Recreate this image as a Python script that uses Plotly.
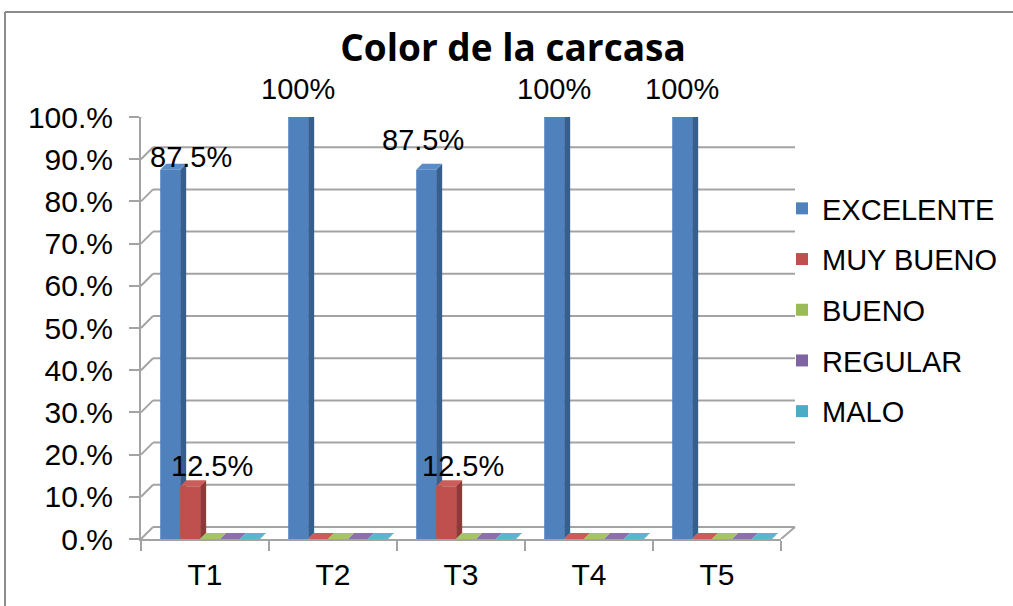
import plotly.graph_objects as go

# ---- data -------------------------------------------------------------
categories = ["T1", "T2", "T3", "T4", "T5"]
series_names = ["EXCELENTE", "MUY BUENO", "BUENO", "REGULAR", "MALO"]
excelente = [0.875, 1.0, 0.875, 1.0, 1.0]
muy_bueno = [0.125, 0.0, 0.125, 0.0, 0.0]
bueno = [0.0, 0.0, 0.0, 0.0, 0.0]
regular = [0.0, 0.0, 0.0, 0.0, 0.0]
malo = [0.0, 0.0, 0.0, 0.0, 0.0]
y_tick_values = [0.0, 0.1, 0.2, 0.3, 0.4, 0.5, 0.6, 0.7, 0.8, 0.9, 1.0]
y_tick_labels = ["0.%", "10.%", "20.%", "30.%", "40.%", "50.%",
                 "60.%", "70.%", "80.%", "90.%", "100.%"]

series_values = [excelente, muy_bueno, bueno, regular, malo]

# ---- style ------------------------------------------------------------
front_colors = ["#4F81BD", "#C0504D", "#9BBB59", "#8064A2", "#4BACC6"]
top_colors = ["#5A8CC9", "#CA5C59", "#A5C466", "#8B70AD", "#58B6CF"]
side_colors = ["#375E8D", "#8F3A38", "#728B40", "#5D4878", "#35809A"]
FONT = "Liberation Sans, Arial, sans-serif"
GRID = "#A3A3A3"

W, H = 1013, 606
PLOT_L, PLOT_R = 141, 781      # front plane, px from left
PLOT_B, PLOT_T = 539, 117      # y=0 and y=1 on the front plane, px from top
WALL_DX, WALL_DY = 12, 12      # back wall offset
BAR_DEPTH = 6                  # extrusion of each column, px
BAR_W = 0.156                  # column width in category units
GROUP_SHIFT = 0.04

x_range = [-0.5, len(categories) - 0.5]
px_per_x = (PLOT_R - PLOT_L) / (x_range[1] - x_range[0])
px_per_y = (PLOT_B - PLOT_T) / 1.0
ddx = BAR_DEPTH / px_per_x
ddy = BAR_DEPTH / px_per_y

# label placement relative to the column centre/top (px)
label_offsets = {
    (0, 0): (21, 13),
    (0, 2): (-3, 30),
    (1, 0): (22, 20),
    (1, 2): (17, 20),
}
default_offset = (0, 28)

fig = go.Figure()

n = len(series_names)
centers = []
for j, vals in enumerate(series_values):
    xs = [i + GROUP_SHIFT + (j - (n - 1) / 2) * BAR_W for i in range(len(categories))]
    centers.append(xs)

    # side and top faces of the extruded columns
    side_x, side_y, top_x, top_y = [], [], [], []
    for xc, v in zip(xs, vals):
        x0, x1 = xc - BAR_W / 2, xc + BAR_W / 2
        side_x += [x1, x1, x1 + ddx, x1 + ddx, x1, None]
        side_y += [0, v, v + ddy, ddy, 0, None]
        top_x += [x0, x1, x1 + ddx, x0 + ddx, x0, None]
        top_y += [v, v, v + ddy, v + ddy, v, None]
    fig.add_trace(go.Scatter(x=side_x, y=side_y, mode="lines", fill="toself",
                             fillcolor=side_colors[j], line=dict(width=0),
                             showlegend=False, hoverinfo="skip",
                             xaxis="x", yaxis="y"))
    fig.add_trace(go.Scatter(x=top_x, y=top_y, mode="lines", fill="toself",
                             fillcolor=top_colors[j], line=dict(width=0),
                             showlegend=False, hoverinfo="skip",
                             xaxis="x", yaxis="y"))

# front faces of the columns
for j, vals in enumerate(series_values):
    fig.add_trace(go.Bar(x=centers[j], y=vals, width=BAR_W, name=series_names[j],
                         marker=dict(color=front_colors[j], line=dict(width=0)),
                         legendgroup=series_names[j],
                         xaxis="x2", yaxis="y2"))

# value labels
for j, vals in enumerate(series_values):
    for i, v in enumerate(vals):
        if v <= 0:
            continue
        dx, dy = label_offsets.get((j, i), default_offset)
        fig.add_annotation(x=centers[j][i], y=v, xref="x", yref="y",
                           text=f"{v * 100:g}%", showarrow=False,
                           xshift=dx, yshift=dy, yanchor="middle",
                           font=dict(family=FONT, size=29, color="black"))

# back wall gridlines and the side-wall connectors
shapes = []
for v in y_tick_values:
    shapes.append(dict(type="line", layer="below",
                       xref="paper", x0=(PLOT_L + WALL_DX) / W, x1=(PLOT_R + WALL_DX + 2) / W,
                       yref="y", ysizemode="pixel", yanchor=v, y0=WALL_DY, y1=WALL_DY,
                       line=dict(color=GRID, width=2)))
    shapes.append(dict(type="line", layer="below",
                       xref="paper", xsizemode="pixel", xanchor=PLOT_L / W, x0=0, x1=WALL_DX,
                       yref="y", ysizemode="pixel", yanchor=v, y0=0, y1=WALL_DY,
                       line=dict(color=GRID, width=2)))
# right edge of the floor
shapes.append(dict(type="line", layer="below",
                   xref="paper", xsizemode="pixel", xanchor=PLOT_R / W, x0=0, x1=WALL_DX + 2,
                   yref="y", ysizemode="pixel", yanchor=0, y0=0, y1=WALL_DY,
                   line=dict(color=GRID, width=2)))
# chart frame (left and top edges; the rest runs off the page)
frame_left, frame_top = 5 / W, 1 - 12 / H
shapes.append(dict(type="line", xref="paper", yref="paper",
                   x0=frame_left, x1=frame_left, y0=0, y1=frame_top,
                   line=dict(color="#8C8C8C", width=2)))
shapes.append(dict(type="line", xref="paper", yref="paper",
                   x0=frame_left, x1=1, y0=frame_top, y1=frame_top,
                   line=dict(color="#8C8C8C", width=2)))

x_dom = [PLOT_L / W, PLOT_R / W]
y_dom = [1 - PLOT_B / H, 1 - PLOT_T / H]

fig.update_layout(
    width=W, height=H,
    margin=dict(l=0, r=0, t=0, b=0, autoexpand=False),
    paper_bgcolor="white", plot_bgcolor="rgba(0,0,0,0)",
    barmode="overlay",
    shapes=shapes,
    title=dict(text="<b>Color de la carcasa</b>", x=513 / W, xanchor="center",
               y=1 - 48 / H, yanchor="middle",
               font=dict(family="Open Sans, sans-serif", size=37, color="black")),
    xaxis=dict(domain=x_dom, range=x_range, showgrid=False, zeroline=False,
               showline=True, linecolor=GRID, linewidth=2,
               tickmode="array",
               tickvals=[k - 0.5 for k in range(len(categories) + 1)],
               ticks="outside", ticklen=10, tickwidth=2, tickcolor=GRID,
               showticklabels=False, fixedrange=True),
    yaxis=dict(domain=y_dom, range=[0, 1], showgrid=False, zeroline=False,
               showline=True, linecolor=GRID, linewidth=2,
               tickmode="array", tickvals=y_tick_values, ticktext=y_tick_labels,
               ticks="outside", ticklen=10, tickwidth=2, tickcolor=GRID,
               ticklabelstandoff=10,
               tickfont=dict(family=FONT, size=30, color="black"), fixedrange=True),
    xaxis2=dict(overlaying="x", range=x_range, showgrid=False, zeroline=False,
                showline=False, tickmode="array",
                tickvals=list(range(len(categories))), ticktext=categories,
                ticks="", ticklabelstandoff=15,
                tickfont=dict(family=FONT, size=30, color="black"), fixedrange=True),
    yaxis2=dict(overlaying="y", range=[0, 1], visible=False, fixedrange=True),
    legend=dict(x=782 / W, xanchor="left", y=1 - 183 / H, yanchor="top",
                font=dict(family=FONT, size=29, color="black"),
                tracegroupgap=10, bgcolor="rgba(0,0,0,0)"),
    showlegend=True,
)

fig.write_html("out.html")
